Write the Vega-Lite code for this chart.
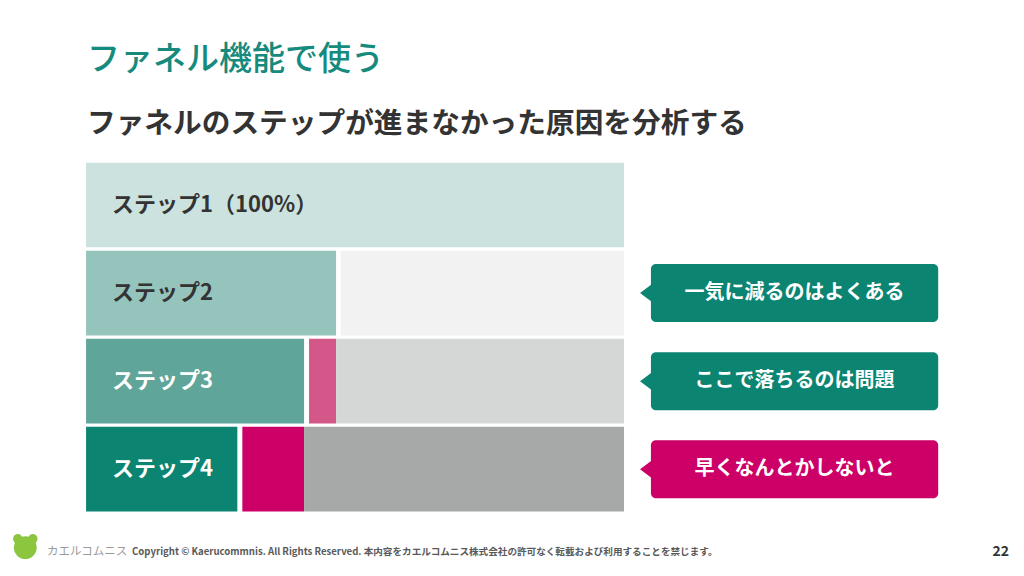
{
  "$schema": "https://vega.github.io/schema/vega-lite/v6.json",
  "width": 1024,
  "height": 413,
  "autosize": {"type": "none"},
  "padding": {"top": 163, "left": 0, "right": 0, "bottom": 0},
  "background": "#ffffff",
  "view": {"stroke": null},
  "config": {"scale": {"continuousPadding": 0}},
  "title": {
    "text": "ファネル機能で使う",
    "subtitle": "ファネルのステップが進まなかった原因を分析する",
    "anchor": "start",
    "frame": "group",
    "dx": 87,
    "offset": 24,
    "font": "Noto Sans CJK JP",
    "fontSize": 33,
    "fontWeight": 500,
    "color": "#168a7c",
    "subtitleFont": "Noto Sans CJK JP",
    "subtitleFontSize": 28.7,
    "subtitleFontWeight": "bold",
    "subtitleColor": "#333333",
    "subtitlePadding": 33
  },
  "datasets": {
    "segments": [
      {"row": 1, "part": "ステップ1", "start": 0, "end": 100},
      {"row": 2, "part": "ステップ2", "start": 0, "end": 46.47},
      {"row": 2, "part": "未到達2", "start": 47.34, "end": 100},
      {"row": 3, "part": "ステップ3", "start": 0, "end": 40.52},
      {"row": 3, "part": "離脱3", "start": 41.45, "end": 46.47},
      {"row": 3, "part": "未到達3", "start": 46.47, "end": 100},
      {"row": 4, "part": "ステップ4", "start": 0, "end": 28.12},
      {"row": 4, "part": "離脱4", "start": 29.05, "end": 40.52},
      {"row": 4, "part": "未到達4", "start": 40.52, "end": 100}
    ],
    "steps": [
      {"row": 1, "label": "ステップ1（100%）"},
      {"row": 2, "label": "ステップ2"},
      {"row": 3, "label": "ステップ3"},
      {"row": 4, "label": "ステップ4"}
    ],
    "notes": [
      {"row": 2, "note": "一気に減るのはよくある", "level": "よくある"},
      {"row": 3, "note": "ここで落ちるのは問題", "level": "問題"},
      {"row": 4, "note": "早くなんとかしないと", "level": "急ぎ"}
    ]
  },
  "layer": [
    {
      "data": {"name": "segments"},
      "mark": {"type": "bar", "height": 84.7},
      "encoding": {
        "x": {"field": "start", "type": "quantitative", "axis": null, "scale": {"domain": [-16, 174.35], "nice": false, "zero": false, "padding": 0}},
        "x2": {"field": "end"},
        "y": {"field": "row", "type": "quantitative", "axis": null, "scale": {"domain": [0.5231, 5.2126], "reverse": true, "nice": false, "zero": false, "padding": 0}},
        "color": {
          "field": "part",
          "type": "nominal",
          "legend": null,
          "scale": {
            "domain": ["ステップ1", "ステップ2", "ステップ3", "ステップ4", "離脱3", "離脱4", "未到達2", "未到達3", "未到達4"],
            "range": ["#cce2de", "#95c4bc", "#5fa599", "#0b8472", "#d4578a", "#cc0066", "#f2f2f2", "#d5d7d6", "#a6a9a8"]
          }
        }
      }
    },
    {
      "data": {"name": "steps"},
      "mark": {"type": "text", "align": "left", "baseline": "middle", "dx": 26, "font": "Noto Sans CJK JP", "fontSize": 22, "fontWeight": "bold"},
      "encoding": {
        "x": {"datum": 0, "type": "quantitative", "scale": {"domain": [-16, 174.35], "nice": false, "zero": false, "padding": 0}},
        "y": {"field": "row", "type": "quantitative", "scale": {"domain": [0.5231, 5.2126], "reverse": true, "nice": false, "zero": false, "padding": 0}},
        "text": {"field": "label"},
        "color": {"condition": {"test": "datum.row >= 3", "value": "#ffffff"}, "value": "#333333"}
      }
    },
    {
      "data": {"name": "notes"},
      "mark": {"type": "bar", "height": 58, "cornerRadius": 5},
      "encoding": {
        "x": {"datum": 105.0, "type": "quantitative", "scale": {"domain": [-16, 174.35], "nice": false, "zero": false, "padding": 0}},
        "x2": {"datum": 158.4},
        "y": {"field": "row", "type": "quantitative", "scale": {"domain": [0.5231, 5.2126], "reverse": true, "nice": false, "zero": false, "padding": 0}},
        "fill": {"field": "level", "type": "nominal", "legend": null, "scale": {"domain": ["よくある", "問題", "急ぎ"], "range": ["#0b8472", "#0b8472", "#cc0066"]}}
      }
    },
    {
      "data": {"name": "notes"},
      "mark": {"type": "point", "filled": true, "opacity": 1, "shape": "M -1 0 L 1 -1.5 L 1 1.5 Z", "size": 144},
      "encoding": {
        "x": {"datum": 104.09, "type": "quantitative", "scale": {"domain": [-16, 174.35], "nice": false, "zero": false, "padding": 0}},
        "y": {"field": "row", "type": "quantitative", "scale": {"domain": [0.5231, 5.2126], "reverse": true, "nice": false, "zero": false, "padding": 0}},
        "fill": {"field": "level", "type": "nominal", "legend": null, "scale": {"domain": ["よくある", "問題", "急ぎ"], "range": ["#0b8472", "#0b8472", "#cc0066"]}}
      }
    },
    {
      "data": {"name": "notes"},
      "mark": {"type": "text", "align": "center", "baseline": "middle", "font": "Noto Sans CJK JP", "fontSize": 20, "fontWeight": "bold", "color": "#ffffff"},
      "encoding": {
        "x": {"datum": 131.69, "type": "quantitative", "scale": {"domain": [-16, 174.35], "nice": false, "zero": false, "padding": 0}},
        "y": {"field": "row", "type": "quantitative", "scale": {"domain": [0.5231, 5.2126], "reverse": true, "nice": false, "zero": false, "padding": 0}},
        "text": {"field": "note"}
      }
    },
    {
      "data": {"values": [{"part": "頭"}]},
      "mark": {"type": "point", "filled": true, "opacity": 1, "color": "#8cc63f", "size": 520, "shape": "circle"},
      "encoding": {
        "x": {"datum": -11.3, "type": "quantitative", "scale": {"domain": [-16, 174.35], "nice": false, "zero": false, "padding": 0}},
        "y": {"datum": 4.89, "type": "quantitative", "scale": {"domain": [0.5231, 5.2126], "reverse": true, "nice": false, "zero": false, "padding": 0}}
      }
    },
    {
      "data": {"values": [{"part": "左目", "ex": -12.7}, {"part": "右目", "ex": -9.9}]},
      "mark": {"type": "point", "filled": true, "opacity": 1, "color": "#8cc63f", "size": 90, "shape": "circle"},
      "encoding": {
        "x": {"field": "ex", "type": "quantitative", "scale": {"domain": [-16, 174.35], "nice": false, "zero": false, "padding": 0}},
        "y": {"datum": 4.79, "type": "quantitative", "scale": {"domain": [0.5231, 5.2126], "reverse": true, "nice": false, "zero": false, "padding": 0}}
      }
    },
    {
      "data": {"values": [{"text": "カエルコムニス"}]},
      "mark": {"type": "text", "align": "left", "baseline": "middle", "font": "Noto Sans CJK JP", "fontSize": 11.5, "color": "#9a9a9a"},
      "encoding": {
        "x": {"datum": -7.25, "type": "quantitative", "scale": {"domain": [-16, 174.35], "nice": false, "zero": false, "padding": 0}},
        "y": {"datum": 4.937, "type": "quantitative", "scale": {"domain": [0.5231, 5.2126], "reverse": true, "nice": false, "zero": false, "padding": 0}},
        "text": {"field": "text"}
      }
    },
    {
      "data": {"values": [{"text": "Copyright © Kaerucommnis. All Rights Reserved. 本内容をカエルコムニス株式会社の許可なく転載および利用することを禁じます。"}]},
      "mark": {"type": "text", "align": "left", "baseline": "middle", "font": "Noto Sans CJK JP", "fontSize": 9.6, "fontWeight": "bold", "color": "#595959"},
      "encoding": {
        "x": {"datum": 8.55, "type": "quantitative", "scale": {"domain": [-16, 174.35], "nice": false, "zero": false, "padding": 0}},
        "y": {"datum": 4.937, "type": "quantitative", "scale": {"domain": [0.5231, 5.2126], "reverse": true, "nice": false, "zero": false, "padding": 0}},
        "text": {"field": "text"}
      }
    },
    {
      "data": {"values": [{"text": "22"}]},
      "mark": {"type": "text", "align": "right", "baseline": "middle", "font": "Noto Sans CJK JP", "fontSize": 14, "fontWeight": "bold", "color": "#333333"},
      "encoding": {
        "x": {"datum": 171.56, "type": "quantitative", "scale": {"domain": [-16, 174.35], "nice": false, "zero": false, "padding": 0}},
        "y": {"datum": 4.937, "type": "quantitative", "scale": {"domain": [0.5231, 5.2126], "reverse": true, "nice": false, "zero": false, "padding": 0}},
        "text": {"field": "text"}
      }
    }
  ]
}
